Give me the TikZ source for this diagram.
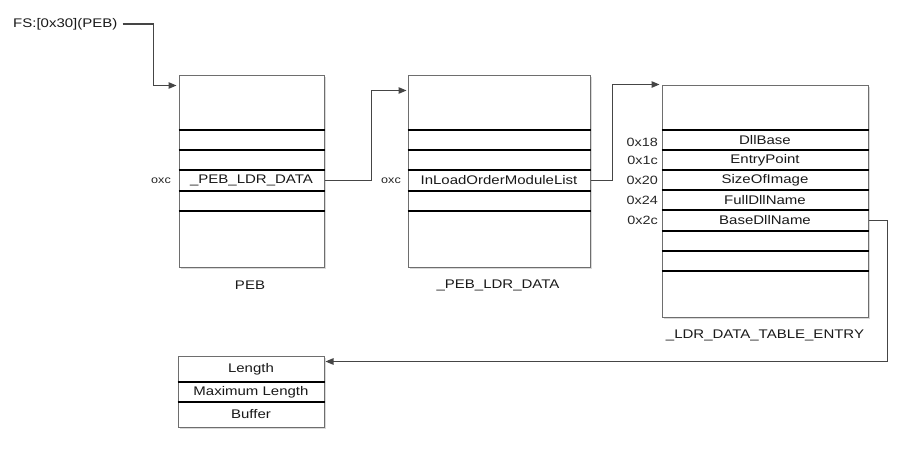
\documentclass[tikz,border=0pt]{standalone}
\usepackage{fontspec}
\setmainfont[FakeStretch=1.2]{Liberation Sans}
\usetikzlibrary{arrows.meta,shadows,calc}
\definecolor{boxgray}{HTML}{6E6E6E}
\definecolor{conngray}{HTML}{454545}
\begin{document}
\begin{tikzpicture}[x=1pt,y=-1pt,
  structbox/.style={draw=boxgray,line width=1pt,fill=white,rectangle,inner sep=0pt,
    drop shadow={opacity=0.3,shadow xshift=1.5pt,shadow yshift=-1.5pt}},
  sepline/.style={draw=black,line width=1.4pt},
  rowtext/.style={font=\fontsize{12.5}{14}\selectfont,inner sep=0pt,text=black!90},
  offtext/.style={font=\fontsize{12}{14}\selectfont,inner sep=0pt,anchor=east,text=black!85},
  smalloff/.style={font=\fontsize{10.5}{12}\selectfont,inner sep=0pt,anchor=east,text=black!85},
  caption/.style={font=\fontsize{12.5}{14}\selectfont,inner sep=0pt,text=black!90},
  conn/.style={draw=conngray,line width=1.2pt,-{Triangle[length=8pt,width=6.5pt]}}]
\useasboundingbox (0,0) rectangle (913,475);

% FS label
\node[font=\fontsize{12.5}{14}\selectfont,inner sep=0pt,anchor=west,text=black!90] (fs) at (13,24) {FS:[0x30](PEB)};

% PEB box
\node[structbox,minimum width=145pt,minimum height=192pt] (peb) at (251.5,171) {};
\foreach \yy in {130,150,170,191,211}
  \draw[sepline] (peb.west |- 0,\yy) -- (peb.east |- 0,\yy);
\node[rowtext] (pebldr) at (251.5,180.5) {\_PEB\_LDR\_DATA};
\coordinate (pebldrE) at (peb.east |- pebldr);
\node[smalloff] (pebofs) at (171,181) {oxc};
\node[caption] (pebcap) at (250,285) {PEB};

% _PEB_LDR_DATA box
\node[structbox,minimum width=182pt,minimum height=192pt] (ldrd) at (499,171) {};
\foreach \yy in {130,150,170,191,211}
  \draw[sepline] (ldrd.west |- 0,\yy) -- (ldrd.east |- 0,\yy);
\node[rowtext] (inload) at (499,180.5) {InLoadOrderModuleList};
\coordinate (inloadE) at (ldrd.east |- inload);
\node[smalloff] (ldrdofs) at (401,181) {oxc};
\node[caption] (ldrdcap) at (498,285) {\_PEB\_LDR\_DATA};

% _LDR_DATA_TABLE_ENTRY box
\node[structbox,minimum width=206pt,minimum height=232pt] (ldre) at (765,201) {};
\foreach \yy in {130,150,170,190,210,231,251,271}
  \draw[sepline] (ldre.west |- 0,\yy) -- (ldre.east |- 0,\yy);
\node[rowtext] (dllbase) at (765,140) {DllBase};
\node[rowtext] (entry) at (765,160) {EntryPoint};
\node[rowtext] (sizeimg) at (765,180) {SizeOfImage};
\node[rowtext] (fulldll) at (765,200) {FullDllName};
\node[rowtext] (basedll) at (765,220.5) {BaseDllName};
\coordinate (basedllE) at (ldre.east |- basedll);
\node[offtext] (o18) at (658,142) {0x18};
\node[offtext] (o1c) at (658,160) {0x1c};
\node[offtext] (o20) at (658,180) {0x20};
\node[offtext] (o24) at (658,200) {0x24};
\node[offtext] (o2c) at (658,220) {0x2c};
\node[caption] (ldrecap) at (765,335) {\_LDR\_DATA\_TABLE\_ENTRY};

% UNICODE_STRING box
\node[structbox,minimum width=146pt,minimum height=71pt] (us) at (251,391.5) {};
\draw[sepline] (us.west |- 0,382) -- (us.east |- 0,382);
\draw[sepline] (us.west |- 0,402) -- (us.east |- 0,402);
\node[rowtext] (len) at (251,369) {Length};
\node[rowtext] (maxlen) at (251,392) {Maximum Length};
\node[rowtext] (buf) at (251,414.5) {Buffer};

% connectors
\draw[conn] ([xshift=5pt]fs.east) -| ([xshift=-25pt,yshift=-11pt]peb.north west) -- ([xshift=-2pt,yshift=-11pt]peb.north west);
\draw[conn] (pebldrE) -| ([xshift=-36pt,yshift=-16pt]ldrd.north west) -- ([xshift=-1pt,yshift=-16pt]ldrd.north west);
\draw[conn] (inloadE) -| ([xshift=-49pt]ldre.north west) -- ([xshift=-2pt]ldre.north west);
\draw[conn] (basedllE) -- ++(19,0) |- ([xshift=1pt,yshift=-6pt]us.north east);
\end{tikzpicture}
\end{document}
